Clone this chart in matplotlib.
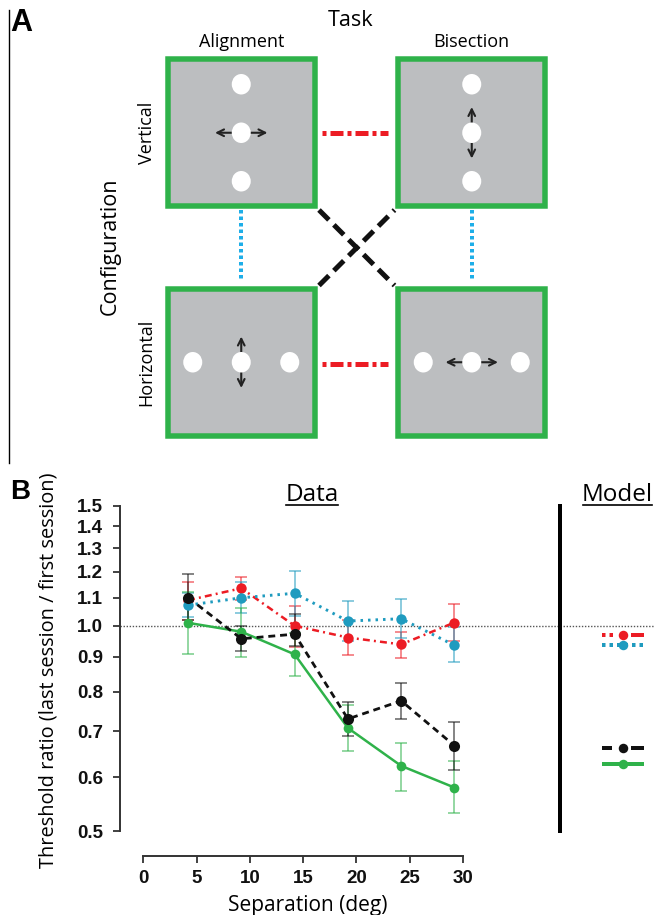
#
#   Perceptual learning transfer: task / configuration schematic (A)
#   and threshold ratio vs. separation (B)
#

import numpy as np
import matplotlib
matplotlib.use("Agg")
import matplotlib.pyplot as plt
from matplotlib.patches import Rectangle, Ellipse, FancyArrowPatch
from matplotlib.lines import Line2D

plt.rcParams["lines.scale_dashes"] = False

#
#   Data (panel B)
#

SEPARATION = [4.2, 9.2, 14.2, 19.2, 24.2, 29.2]

# same task, same configuration (green, solid)
SAME = [1.01, 0.98, 0.908, 0.708, 0.623, 0.579]
SAME_LO = [0.91, 0.90, 0.845, 0.655, 0.572, 0.531]
SAME_HI = [1.12, 1.062, 0.975, 0.765, 0.674, 0.633]

# task and configuration both switched (black, dashed)
BOTH = [1.10, 0.957, 0.972, 0.730, 0.776, 0.667]
BOTH_LO = [1.02, 0.918, 0.935, 0.69, 0.731, 0.615]
BOTH_HI = [1.19, 1.0, 1.039, 0.773, 0.823, 0.722]

# task switched (red, dash-dot)
TASK = [1.09, 1.135, 1.0, 0.961, 0.939, 1.011]
TASK_LO = [1.02, 1.09, 0.93, 0.906, 0.898, 0.95]
TASK_HI = [1.16, 1.178, 1.07, 1.02, 0.98, 1.075]

# configuration switched (blue, dotted)
CONF = [1.072, 1.099, 1.116, 1.016, 1.024, 0.936]
CONF_LO = [1.03, 1.043, 1.035, 0.95, 0.96, 0.884]
CONF_HI = [1.116, 1.16, 1.204, 1.086, 1.093, 0.995]

# model predictions (one value per condition)
MODEL_TASK = 0.969
MODEL_CONF = 0.937
MODEL_BOTH = 0.661
MODEL_SAME = 0.626

Y_TICKS = [0.5, 0.6, 0.7, 0.8, 0.9, 1.0, 1.1, 1.2, 1.3, 1.4, 1.5]
X_TICKS = [0, 5, 10, 15, 20, 25, 30]

#
#   Style
#

W, H, DPI = 654, 915, 100
RED = "#ec1c24"
BLUE = "#1f9bbf"
GREEN = "#2fb24a"
BLACK = "#111111"
GRAY = "#bcbec0"
CYAN = "#1eaee8"
PT = 0.72  # points per pixel at 100 dpi

SANS = ["Open Sans", "DejaVu Sans"]
BOLD = ["Liberation Sans", "DejaVu Sans"]

fig = plt.figure(figsize=(W / DPI, H / DPI), dpi=DPI)

# pixel-space overlay for schematic and free text
ax_px = fig.add_axes([0, 0, 1, 1])
ax_px.set_xlim(0, W)
ax_px.set_ylim(H, 0)
ax_px.axis("off")

#
#   Panel A
#

ax_px.text(10, 8, "A", fontsize=22, fontweight="bold", family=BOLD, va="top", ha="left")
ax_px.plot([9.3, 9.3], [10, 463], color="black", lw=1.0)

ax_px.text(351, 20, "Task", fontsize=15.5, family=SANS, ha="center", va="center")
COL_X = [165.0, 395.5]
ROW_Y = [56.5, 286.0]
BOX = 152.5
BORDER = 5.5
col_names = ["Alignment", "Bisection"]
row_names = ["Vertical", "Horizontal"]

for ci, x0 in enumerate(COL_X):
    ax_px.text(x0 + BOX / 2, 41.7, col_names[ci], fontsize=13, family=SANS,
               ha="center", va="center")
for ri, y0 in enumerate(ROW_Y):
    ax_px.text(146.7, y0 + BOX / 2, row_names[ri], fontsize=13, family=SANS,
               ha="center", va="center", rotation=90)
ax_px.text(110, 246.7, "Configuration", fontsize=15.5, family=SANS,
           ha="center", va="center", rotation=90)

SPACING = 48.5
for ci, x0 in enumerate(COL_X):
    for ri, y0 in enumerate(ROW_Y):
        ax_px.add_patch(Rectangle((x0 + BORDER / 2, y0 + BORDER / 2), BOX - BORDER, BOX - BORDER,
                                  facecolor=GRAY, edgecolor=GREEN, lw=BORDER * PT))
        cx, cy = x0 + BOX / 2, y0 + BOX / 2
        offs = np.array([-SPACING, 0, SPACING])
        if ri == 0:
            xs, ys = np.full(3, cx), cy + offs
        else:
            xs, ys = cx + offs, np.full(3, cy)
        for x, y in zip(xs, ys):
            ax_px.add_patch(Ellipse((x, y), 19, 20.5, facecolor="white", edgecolor="none", zorder=4))
        # judged offset direction: orthogonal for alignment, along for bisection
        horiz = (ci == 0 and ri == 0) or (ci == 1 and ri == 1)
        if horiz:
            p0, p1 = (cx - 29, cy), (cx + 29, cy)
        else:
            p0, p1 = (cx, cy - 28.5), (cx, cy + 28.5)
        ax_px.add_patch(FancyArrowPatch(p0, p1, arrowstyle="<->", mutation_scale=12,
                                        lw=1.5, color="#222222", zorder=3))

# connections between conditions
for ri, y0 in enumerate(ROW_Y):
    ln = Line2D([COL_X[0] + BOX + 4, COL_X[1] - 8], [y0 + BOX / 2 + ri * 1.3] * 2,
                color=RED, lw=5 * PT, solid_capstyle="butt", dash_capstyle="butt")
    ln.set_dashes((4 * PT, 4 * PT, 13 * PT, 4 * PT))
    ax_px.add_line(ln)
for ci, x0 in enumerate(COL_X):
    ln = Line2D([x0 + BOX / 2 + ci * 0.6] * 2, [210, 281], color=CYAN, lw=4 * PT,
                dash_capstyle="butt")
    ln.set_dashes((3.5 * PT, 3 * PT))
    ax_px.add_line(ln)
for ys in ([210, 285.5], [285.5, 210]):
    ln = Line2D([319, 394.5], ys, color=BLACK, lw=5 * PT, dash_capstyle="butt")
    ln.set_dashes((14 * PT, 7 * PT))
    ax_px.add_line(ln)

#
#   Panel B
#

ax_px.text(10, 479, "B", fontsize=20, fontweight="bold", family=BOLD, va="top", ha="left")

Y_TOP, Y_BOT = 505.7, 831.0
X_LEFT, X_SPLIT = 120.0, 560.0
ax = fig.add_axes([X_LEFT / W, (H - Y_BOT) / H, (X_SPLIT - X_LEFT) / W, (Y_BOT - Y_TOP) / H])
ax.patch.set_alpha(0)
ax.set_yscale("log")
ax.set_ylim(0.5, 1.5)
# x = 0 sits at 143.3 px and x = 30 at 463 px
px_per_x = (463.0 - 143.3) / 30
ax.set_xlim((X_LEFT - 143.3) / px_per_x, (X_SPLIT - 143.3) / px_per_x)

ax.axhline(1.0, color="#555555", lw=1.0, ls=(0, (1, 1.2)), zorder=1)


def series(y, lo, hi, color, dashes, lw, ms):
    y = np.array(y)
    err = [y - np.array(lo), np.array(hi) - y]
    ax.errorbar(SEPARATION, y, yerr=err, fmt="none", ecolor=color, alpha=0.6,
                elinewidth=1.2, capsize=4.5, capthick=1.2, zorder=2)
    line, = ax.plot(SEPARATION, y, color=color, lw=lw, marker="o", ms=ms,
                    markeredgewidth=0, zorder=3)
    if dashes is not None:
        line.set_dashes(dashes)


series(TASK, TASK_LO, TASK_HI, RED, (5, 3, 1.4, 3), 1.8, 7.5)
series(CONF, CONF_LO, CONF_HI, BLUE, (1.8, 3.6), 2.1, 7.5)
series(SAME, SAME_LO, SAME_HI, GREEN, None, 1.8, 7)
series(BOTH, BOTH_LO, BOTH_HI, BLACK, (5, 3.5), 2.0, 8)

for side in ("top", "right"):
    ax.spines[side].set_visible(False)
ax.spines["bottom"].set_position(("outward", 25 * PT))
ax.spines["bottom"].set_bounds(0, 30)
for side in ("left", "bottom"):
    ax.spines[side].set_color("#333333")
    ax.spines[side].set_linewidth(1.4)

ax.set_yticks(Y_TICKS)
ax.set_yticklabels([f"{v:.1f}" for v in Y_TICKS])
ax.yaxis.set_minor_locator(matplotlib.ticker.NullLocator())
ax.set_xticks(X_TICKS)
ax.set_xticklabels([str(v) for v in X_TICKS])
ax.tick_params(axis="both", length=7 * PT, width=1.3, color="#333333", labelsize=13.5,
               labelcolor="#111111")
ax.tick_params(axis="y", pad=7)
ax.tick_params(axis="x", pad=5)
for lab in ax.get_xticklabels() + ax.get_yticklabels():
    lab.set_family(BOLD)
    lab.set_fontweight("bold")

ax_px.text(49, 670, "Threshold ratio (last session / first session)", fontsize=14.4,
           family=SANS, rotation=90, ha="center", va="center")
ax_px.text(308, 911, "Separation (deg)", fontsize=15, family=SANS, ha="center",
           va="baseline")

# model panel
ax_m = fig.add_axes([X_SPLIT / W, (H - Y_BOT) / H, (W - X_SPLIT) / W, (Y_BOT - Y_TOP) / H])
ax_m.patch.set_alpha(0)
ax_m.set_yscale("log")
ax_m.set_ylim(0.5, 1.5)
ax_m.set_xlim(-1.0, 1.238)
for side in ("top", "right", "bottom"):
    ax_m.spines[side].set_visible(False)
ax_m.spines["left"].set_linewidth(4 * PT)
ax_m.spines["left"].set_color("black")
ax_m.set_xticks([])
ax_m.set_yticks([])
ax_m.yaxis.set_minor_locator(matplotlib.ticker.NullLocator())
ax_m.axhline(1.0, color="#555555", lw=1.0, ls=(0, (1, 1.2)), zorder=1)

MODEL_STYLE = [
    (MODEL_TASK, RED, (3.5 * PT, 4 * PT, 3.5 * PT, 18 * PT, 14 * PT, 4 * PT)),
    (MODEL_CONF, BLUE, (3.5 * PT, 4 * PT)),
    (MODEL_BOTH, BLACK, (10 * PT, 19 * PT, 14 * PT, 4 * PT)),
    (MODEL_SAME, GREEN, None),
]
for val, color, dashes in MODEL_STYLE:
    ln, = ax_m.plot([0, 1], [val, val], color=color, lw=4 * PT, dash_capstyle="butt",
                    solid_capstyle="butt")
    if dashes is not None:
        ln.set_dashes(dashes)
    ax_m.plot([0.5], [val], "o", color=color, ms=9.5 * PT, markeredgewidth=0)

# section titles, underlined
t_data = ax_px.text(312, 501, "Data", fontsize=17.5, family=SANS, ha="center", va="baseline")
t_model = ax_px.text(581.7, 501, "Model", fontsize=17.5, family=SANS, ha="left", va="baseline")
fig.canvas.draw()
inv = ax_px.transData.inverted()
for t in (t_data, t_model):
    bb = t.get_window_extent()
    (x0, _), (x1, _) = inv.transform([(bb.x0, bb.y0), (bb.x1, bb.y1)])
    ax_px.plot([x0 + 1, x1 - 1], [504.5, 504.5], color="black", lw=1.2)

fig.savefig("out.png", dpi=DPI)
